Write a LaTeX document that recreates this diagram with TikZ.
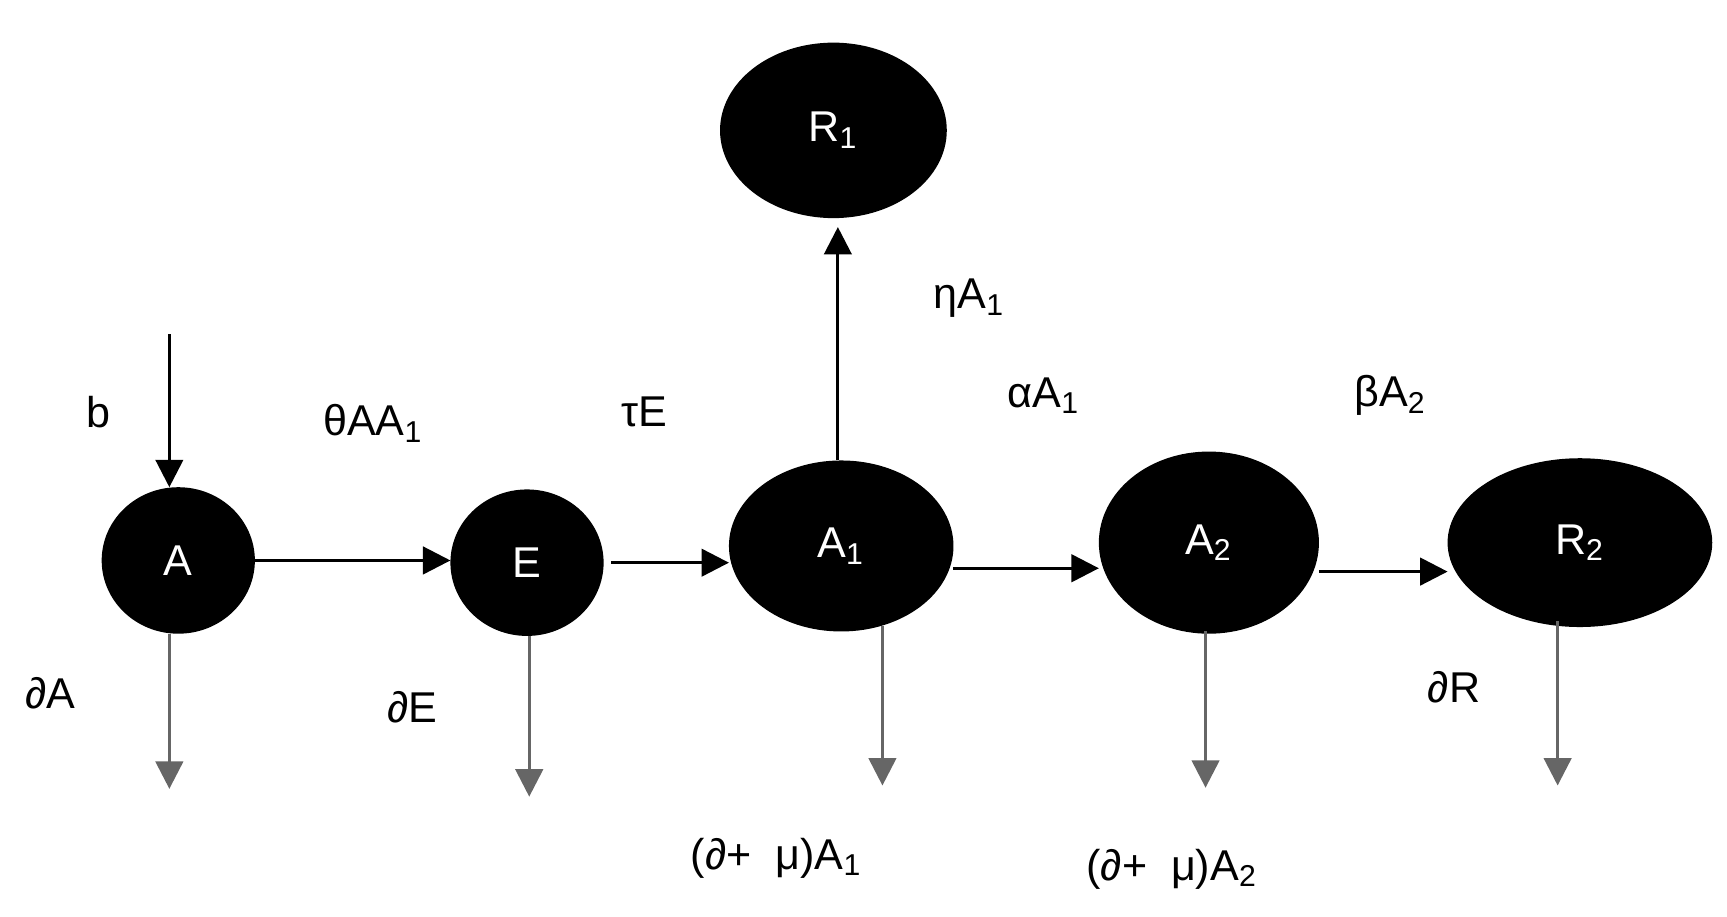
\documentclass[tikz,border=0pt]{standalone}
\usepackage{fontspec}
\setmainfont{Liberation Sans}
\usetikzlibrary{arrows.meta, shapes.geometric}
\tikzstyle{state} = [draw, fill=black, ellipse, text=white, inner sep=0, font=\fontsize{11}{13}\selectfont]
\tikzstyle{flow} = [-{Triangle[length=7pt,width=7pt]}, thick]
\tikzstyle{loss} = [-{Triangle[length=7pt,width=7pt]}, thick, black!60]
\tikzstyle{lbl} = [font=\fontsize{11}{13}\selectfont]

\begin{document}
\begin{tikzpicture}[x=0.01cm, y=-0.01cm]
      \useasboundingbox (0,0) rectangle (1550,823);
      \node[state, minimum width=1.36cm, minimum height=1.3cm] (A) at (160, 503) {A};
      \node[state, minimum width=1.36cm, minimum height=1.3cm] (E) at (473, 505) {E};
      \node[state, minimum width=2.0cm, minimum height=1.52cm] (A1) at (755, 490) {A\textsubscript{1}};
      \node[state, minimum width=1.96cm, minimum height=1.62cm] (A2) at (1085, 487) {A\textsubscript{2}};
      \node[state, minimum width=2.36cm, minimum height=1.5cm] (R2) at (1418, 487) {R\textsubscript{2}};
      \node[state, minimum width=2.02cm, minimum height=1.56cm] (R1) at (748, 117) {R\textsubscript{1}};

      \coordinate (bin) at (152, 300);
      \coordinate (up) at (752, 0);
      \coordinate (r0) at (0, 503);
      \coordinate (r1) at (0, 510);
      \coordinate (r2) at (0, 513);
      \coordinate (dA) at (152, 708);
      \coordinate (dE) at (475, 715);
      \coordinate (dA1) at (792, 705);
      \coordinate (dA2) at (1082, 707);
      \coordinate (dR2) at (1398, 705);

      \draw[flow] (bin) -- (bin |- A.north);
      \draw[flow] (A.east |- r0) -- (E.west |- r0);
      \draw[flow] ([xshift=0.07cm]E.east) -- (A1.west |- E.east);
      \draw[flow] (A1.north -| up) -- ([yshift=-0.08cm]R1.south -| up);
      \draw[flow] (A1.east |- r1) -- (A2.west |- r1);
      \draw[flow] (A2.east |- r2) -- (R2.west |- r2);

      \draw[loss] (A.south -| dA) -- (dA);
      \draw[loss] (E.south -| dE) -- (dE);
      \draw[loss] ([yshift=0.05cm]A1.south -| dA1) -- (dA1);
      \draw[loss] ([yshift=0.02cm]A2.south -| dA2) -- (dA2);
      \draw[loss] ([yshift=0.05cm]R2.south -| dR2) -- (dR2);

      \node[lbl] (lb) at (88, 370) {b};
      \node[lbl] (lth) at (335, 380) {θAA\textsubscript{1}};
      \node[lbl] (ltau) at (578, 370) {τE};
      \node[lbl] (leta) at (870, 268) {ηA\textsubscript{1}};
      \node[lbl] (lal) at (937, 355) {αA\textsubscript{1}};
      \node[lbl] (lbe) at (1248, 355) {βA\textsubscript{2}};
      \node[lbl] (ldA) at (45, 622) {∂A};
      \node[lbl] (ldE) at (370, 635) {∂E};
      \node[lbl] (ldA1) at (697, 770) {(∂+\ \ μ)A\textsubscript{1}};
      \node[lbl] (ldA2) at (1052, 780) {(∂+\ \ μ)A\textsubscript{2}};
      \node[lbl] (ldR) at (1305, 617) {∂R};
    \end{tikzpicture}
\end{document}
